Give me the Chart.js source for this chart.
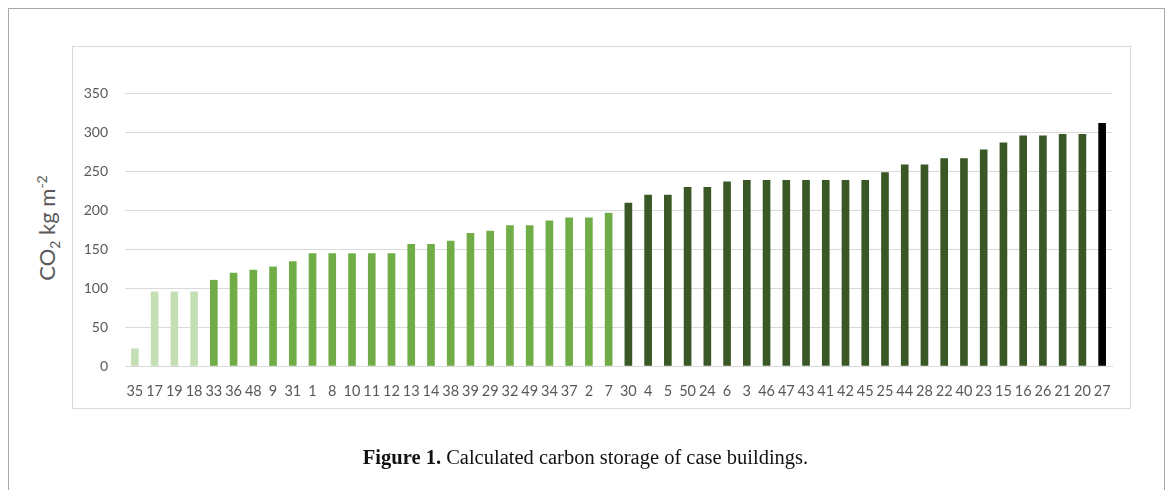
<!DOCTYPE html>
<html>
<head>
<meta charset="utf-8">
<script src="https://cdn.jsdelivr.net/npm/chart.js@4.4.1/dist/chart.umd.min.js"></script>
<style>
  html, body { margin: 0; padding: 0; background: #fff; }
  body { width: 1171px; height: 490px; position: relative; overflow: hidden; }
  #frame { position: absolute; left: 8px; top: 8px; width: 1157px; height: 500px;
           border: 1.5px solid #a9a9a9; border-bottom: none; box-sizing: border-box; }
  #plotbox { position: absolute; left: 72px; top: 46px; width: 1059px; height: 363px;
             border: 1px solid #dadada; box-sizing: border-box; }
  #chartWrap { position: absolute; left: 0; top: 0; width: 1171px; height: 490px; }
  #ytitle { position: absolute; left: 48px; top: 228px; transform: translate(-50%, -50%) rotate(-90deg);
            font-family: Lato, "Open Sans", sans-serif; font-size: 22px; color: #595959; white-space: nowrap; }
  #ytitle sub, #ytitle sup { font-size: 14px; }
  #caption { position: absolute; left: 0; width: 1171px; top: 446px; text-align: center;
             font-family: "Liberation Serif", "DejaVu Serif", serif; font-size: 20.5px; color: #111; }
</style>
</head>
<body>
<div id="frame"></div>
<div id="plotbox"></div>
<div id="ytitle">CO<sub>2</sub> kg m<sup>-2</sup></div>
<div id="chartWrap"><canvas id="chartCanva" width="1171" height="490"></canvas></div>
<div id="caption"><b>Figure 1.</b> Calculated carbon storage of case buildings.</div>
<script>
var buildings = ['35','17','19','18','33','36','48','9','31','1','8','10','11','12','13','14','38','39','29','32','49','34','37','2','7',
                 '30','4','5','50','24','6','3','46','47','43','41','42','45','25','44','28','22','40','23','15','16','26','21','20','27'];
var carbonStorage = [22,95,95,95,110,119,123,127,134,144,144,144,144,144,156,156,160,170,173,180,180,186,190,190,196,
                     209,219,219,229,229,236,238,238,238,238,238,238,238,248,258,258,266,266,277,286,295,295,297,297,311];
var yTicks = [0,50,100,150,200,250,300,350];

// colour groups: first 4 low, next 21 medium, then high, last one the maximum
var barColors = buildings.map(function(b, i) {
    if (i < 4) return '#c5dfb4';
    if (i < 25) return '#70ad47';
    if (i < buildings.length - 1) return '#3a5726';
    return '#000000';
});

var config = {
    type: 'bar',
    data: {
        labels: buildings,
        datasets: [{
            label: 'CO2 kg m-2',
            data: carbonStorage,
            backgroundColor: barColors,
            barThickness: 7
        }]
    },
    options: {
        responsive: false,
        animation: false,
        layout: { padding: { left: 0, top: 93, right: 59, bottom: 0 } },
        plugins: {
            legend: { display: false },
            tooltip: { enabled: false },
            title: { display: false }
        },
        scales: {
            x: {
                grid: { display: false },
                border: { display: true, color: '#d9d9d9' },
                ticks: {
                    color: '#595959',
                    font: { family: 'Lato', size: 14.5 },
                    padding: 9,
                    maxRotation: 0,
                    autoSkip: false
                },
                afterFit: function(s) { s.height = 124; }
            },
            y: {
                min: 0,
                max: 350,
                grid: { color: '#d9d9d9', drawTicks: false },
                border: { display: false },
                ticks: {
                    stepSize: 50,
                    color: '#595959',
                    font: { family: 'Lato', size: 14 },
                    padding: 17,
                    callback: function(v) { return yTicks.indexOf(v) >= 0 ? v : ''; }
                },
                afterFit: function(s) { s.width = 125; }
            }
        }
    }
};

var myChart = new Chart(document.getElementById('chartCanva'), config);
</script>
</body>
</html>
